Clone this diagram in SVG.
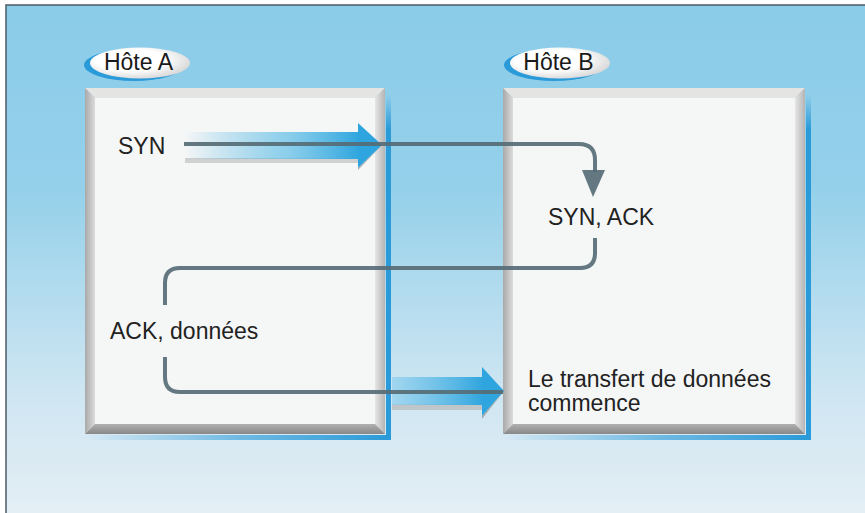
<svg xmlns="http://www.w3.org/2000/svg" width="865" height="513" viewBox="0 0 865 513">
<defs>
  <linearGradient id="bg" x1="0" y1="0" x2="0" y2="1">
    <stop offset="0" stop-color="#8bcce9"/>
    <stop offset="0.35" stop-color="#94d0ea"/>
    <stop offset="0.75" stop-color="#cfe6f2"/>
    <stop offset="1" stop-color="#e6eff5"/>
  </linearGradient>
  <linearGradient id="arrowGrad" x1="0" y1="0" x2="1" y2="0">
    <stop offset="0" stop-color="#3aaee0" stop-opacity="0"/>
    <stop offset="0.6" stop-color="#5bbce6" stop-opacity="0.7"/>
    <stop offset="1" stop-color="#2ea5de"/>
  </linearGradient>
  <linearGradient id="arrowGrad2" x1="0" y1="0" x2="1" y2="0">
    <stop offset="0" stop-color="#8fd0ee" stop-opacity="0.7"/>
    <stop offset="1" stop-color="#2ea5de"/>
  </linearGradient>
  <linearGradient id="shadowH" x1="0" y1="0" x2="1" y2="0">
    <stop offset="0" stop-color="#2a9ad8" stop-opacity="0"/>
    <stop offset="0.5" stop-color="#2a9ad8" stop-opacity="0.6"/>
    <stop offset="1" stop-color="#2a9ad8"/>
  </linearGradient>
  <linearGradient id="shadowV" x1="0" y1="0" x2="0" y2="1">
    <stop offset="0" stop-color="#2a9ad8" stop-opacity="0"/>
    <stop offset="0.1" stop-color="#2a9ad8"/>
    <stop offset="1" stop-color="#2a9ad8"/>
  </linearGradient>
  <linearGradient id="bevL" x1="0" y1="0" x2="1" y2="0">
    <stop offset="0" stop-color="#a9a9a9"/>
    <stop offset="1" stop-color="#dcdcdc"/>
  </linearGradient>
  <linearGradient id="bevR" x1="0" y1="0" x2="1" y2="0">
    <stop offset="0" stop-color="#e6e6e6"/>
    <stop offset="1" stop-color="#b4b4b4"/>
  </linearGradient>
  <linearGradient id="bevB" x1="0" y1="0" x2="0" y2="1">
    <stop offset="0" stop-color="#b0b0b0"/>
    <stop offset="1" stop-color="#888888"/>
  </linearGradient>
  <radialGradient id="pill" cx="0.4" cy="0.4" r="0.7">
    <stop offset="0.5" stop-color="#ffffff"/>
    <stop offset="1" stop-color="#cfcfcf"/>
  </radialGradient>
  <style>
    .t { font-family: "Liberation Sans", Arial, sans-serif; font-size: 23px; fill: #222; }
    .h { font-family: "Liberation Sans", Arial, sans-serif; font-size: 23px; fill: #1a1a1a; text-anchor: middle; }
    .conn { fill: none; stroke: #566c75; stroke-width: 4; stroke-opacity: 0.92; }
    .head { fill: #566c75; fill-opacity: 0.92; }
    .face { fill: #f5f6f6; }
    .bevT { fill: #e4e4e2; }
  </style>
</defs>

<!-- background -->
<rect x="0" y="0" width="865" height="513" fill="#ffffff"/>
<rect x="6" y="5" width="870" height="520" fill="url(#bg)" stroke="#4d5a66" stroke-width="1.5"/>

<!-- box shadows (blue lines) -->
<g id="shadows">
  <rect x="86" y="435" width="305" height="5" fill="url(#shadowH)"/>
  <rect x="386" y="95" width="5" height="345" fill="url(#shadowV)"/>
  <rect x="503" y="435" width="308" height="5" fill="url(#shadowH)"/>
  <rect x="806" y="95" width="5" height="345" fill="url(#shadowV)"/>
</g>

<g id="hostA">
  <rect x="95" y="98" width="280" height="326" class="face"/>
  <polygon points="85,88 385,88 375,98 95,98" class="bevT"/>
  <polygon points="85,88 95,98 95,424 85,434" fill="url(#bevL)"/>
  <polygon points="385,88 385,434 375,424 375,98" fill="url(#bevR)"/>
  <polygon points="85,434 95,424 375,424 385,434" fill="url(#bevB)"/>
  <ellipse cx="134" cy="65" rx="50" ry="16" fill="#2a9ad8"/>
  <ellipse cx="140" cy="63" rx="50" ry="15.5" fill="url(#pill)"/>
  <text x="138.5" y="70" class="h">Hôte A</text>
</g>

<g id="hostB">
  <rect x="513" y="98" width="282" height="326" class="face"/>
  <polygon points="503,88 805,88 795,98 513,98" class="bevT"/>
  <polygon points="503,88 513,98 513,424 503,434" fill="url(#bevL)"/>
  <polygon points="805,88 805,434 795,424 795,98" fill="url(#bevR)"/>
  <polygon points="503,434 513,424 795,424 805,434" fill="url(#bevB)"/>
  <ellipse cx="554" cy="65" rx="50" ry="16" fill="#2a9ad8"/>
  <ellipse cx="560" cy="63" rx="50" ry="15.5" fill="url(#pill)"/>
  <text x="558.5" y="70" class="h">Hôte B</text>
</g>

<!-- big blue arrows -->
<g id="flowArrows">
  <rect x="185" y="158" width="175" height="5" fill="#b8b8b8" opacity="0.6"/>
  <rect x="185" y="132" width="175" height="27" fill="url(#arrowGrad)"/>
  <polygon points="358,123 382,145 358,168" fill="#2ea5de"/>
  <polygon points="382,145 358,168 358,170" fill="#9a9a9a" opacity="0.8"/>
  <rect x="392" y="404" width="92" height="6" fill="#b8b8b8" opacity="0.7"/>
  <rect x="392" y="377" width="92" height="28" fill="url(#arrowGrad2)"/>
  <polygon points="482,367 504,391 482,416" fill="#2ea5de"/>
  <polygon points="504,391 482,416 482,419" fill="#9a9a9a" opacity="0.8"/>
</g>

<g id="connectors">
  <path class="conn" d="M184,144 H579 Q595,144 595,160 V172"/>
  <polygon class="head" points="582,170 605,170 593,197"/>
  <path class="conn" d="M595,238 V253 Q595,268 580,268 H180 Q165,268 165,283 V305"/>
  <path class="conn" d="M165,357 V377 Q165,392 180,392 H503"/>
</g>

<g id="labels">
  <text x="118" y="154" class="t">SYN</text>
  <text x="548" y="225" class="t">SYN, ACK</text>
  <text x="110" y="339" class="t">ACK, données</text>
  <text x="528" y="387" class="t">Le transfert de données</text>
  <text x="528" y="411" class="t">commence</text>
</g>
</svg>
